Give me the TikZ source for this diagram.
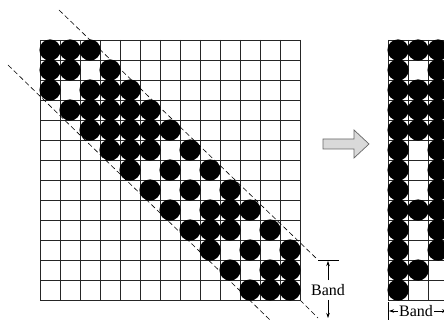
\documentclass[tikz,border=0pt]{standalone}
\usepackage{fontspec}
\setmainfont{Liberation Serif}
\usetikzlibrary{arrows.meta}
\begin{document}
\begin{tikzpicture}[x=1pt,y=-1pt,
  gridline/.style={line width=0.8pt,black!85},
  dot/.style={fill=black},
  bandline/.style={line width=0.6pt,dash pattern=on 5pt off 3pt},
  dimline/.style={line width=0.6pt,-{Stealth[length=5pt,width=3.5pt]}},
  lbl/.style={font=\fontsize{16}{16}\selectfont,inner sep=0pt}]
\clip (0,0) rectangle (444,320);
\fill[white] (0,0) rectangle (444,320);
% left grid
\foreach \i in {0,...,13}{
  \draw[gridline] (40+20*\i,40) -- (40+20*\i,300);
  \draw[gridline] (40,40+20*\i) -- (300,40+20*\i);
}
\foreach \r/\cs in {0/{0,1,2},1/{0,1,3},2/{0,2,3,4},3/{1,2,3,4,5},4/{2,3,4,5,6},
  5/{3,4,5,7},6/{4,6,8},7/{5,7,9},8/{6,8,9,10},9/{7,8,9,11},10/{8,10,12},
  11/{9,11,12},12/{10,11,12}}{
  \foreach \c in \cs {\fill[dot] (50+20*\c,50+20*\r) circle (10.6);}
}
% band dashed lines
\coordinate (u0) at (59,10);
\coordinate (u1) at (318,260);
\coordinate (l0) at (8,65);
\coordinate (l1) at (270,320);
\coordinate (d0) at (300,300);
\coordinate (d1) at (318,318);
\draw[bandline] (u0) -- (u1);
\draw[bandline] (l0) -- (l1);
\draw[bandline] (d0) -- (d1);
\coordinate (t0) at (318,260);
\coordinate (t1) at (339,260);
\draw[line width=0.6pt] (t0) -- (t1);
% Band dimension
\node[lbl] (bandR) at (328,290) {Band};
\coordinate (aTop) at (328,261);
\coordinate (aBot) at (328,318);
\draw[dimline] (bandR.north) ++(0,-4) -- (aTop);
\draw[dimline] (bandR.south) ++(0,4) -- (aBot);
% block arrow
\draw[line width=0.7pt,draw=black!60,fill=black!15]
  (323,139) -- (354,139) -- (354,130) -- (369,144) -- (354,158) -- (354,149) -- (323,149) -- cycle;
% right grid (band storage)
\foreach \i in {0,...,3}{
  \draw[gridline] (388+20*\i,40) -- (388+20*\i,300);
}
\foreach \i in {0,...,13}{
  \draw[gridline] (388,40+20*\i) -- (448,40+20*\i);
}
\foreach \r/\cs in {0/{0,1,2},1/{0,2},2/{0,1,2},3/{0,1,2},4/{0,1,2},
  5/{0,2},6/{0,2},7/{0,2},8/{0,1,2},9/{0,2},10/{0,2},11/{0,1},12/{0}}{
  \foreach \c in \cs {\fill[dot] (398+20*\c,50+20*\r) circle (10.6);}
}
% bottom Band label
\node[lbl] (bandB) at (416,311) {Band};
\coordinate (bl) at (388,302);
\coordinate (blb) at (388,320);
\draw[line width=0.6pt] (bl) -- (blb);
\coordinate (br) at (448,302);
\coordinate (brb) at (448,320);
\draw[line width=0.6pt] (br) -- (brb);
\coordinate (la) at (389,311);
\coordinate (ra) at (447,311);
\draw[dimline] (bandB.west) ++(-1,0) -- (la);
\draw[dimline] (bandB.east) ++(1,0) -- (ra);
\end{tikzpicture}
\end{document}
